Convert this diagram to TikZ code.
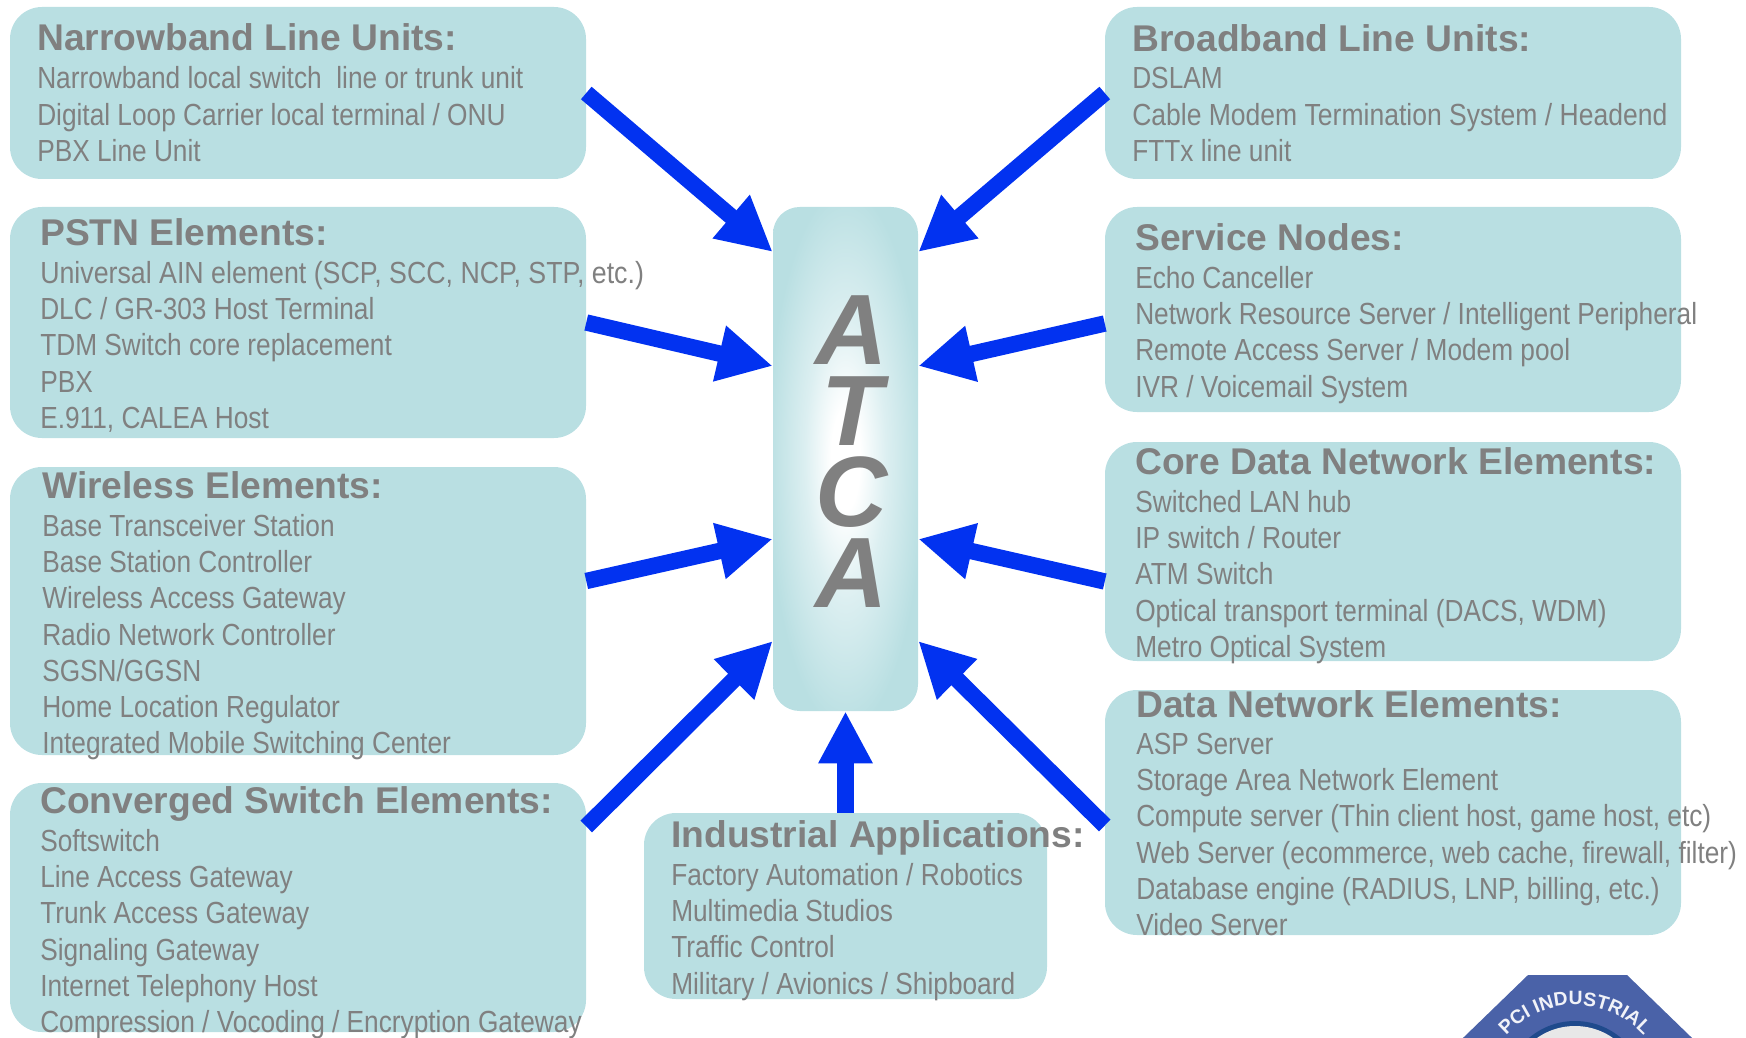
\documentclass[tikz,border=0pt]{standalone}
\usepackage{fontspec}
\usetikzlibrary{arrows.meta,calc,decorations.text}
\setmainfont{Liberation Sans}
\newfontfamily\bodyf[FakeStretch=0.86]{Liberation Sans}
\newfontfamily\headf{Liberation Sans}
\definecolor{boxc}{HTML}{B9DFE2}
\definecolor{boxm}{HTML}{DCEFF1}
\definecolor{txtc}{HTML}{808080}
\definecolor{arrc}{HTML}{0232F0}
\definecolor{logoc}{HTML}{4A62A8}
\definecolor{logod}{HTML}{1F4A8C}
\pgfdeclareradialshading{atcashade}{\pgfpoint{0bp}{0bp}}{color(0bp)=(white); color(5bp)=(white); color(14bp)=(boxm); color(27bp)=(boxc); color(100bp)=(boxc)}
\tikzset{
  panel/.style={fill=boxc,draw=none,rounded corners=24pt,inner sep=0pt},
  head/.style={anchor=base west,inner sep=0pt,text=txtc,font=\headf\bfseries\fontsize{27.9}{30}\selectfont},
  body/.style={anchor=north west,inner sep=0pt,align=left,yshift=18.97pt,text=txtc,font=\bodyf\fontsize{22.9}{27.2}\selectfont},
  feed/.style={draw=arrc,line width=12.3pt,-{Triangle[length=41pt,width=40pt]}},
  feedup/.style={draw=arrc,line width=12.3pt,-{Triangle[length=39pt,width=38pt]}},
}
\newcommand{\panelbox}[5]{\node[panel,minimum width={(#4-#2)*0.75pt},minimum height={(#5-#3)*0.75pt}] (#1) at ({(#2+#4)/2},{(#3+#5)/2}) {};}
\begin{document}
\begin{tikzpicture}[x=0.75pt,y=-0.75pt]
\useasboundingbox (0,0) rectangle (1746,1038);
\clip (0,0) rectangle (1746,1038);
% logo
\fill[logoc] (1528,975) -- (1627,975) -- (1722,1067) -- (1722,1120) -- (1433,1120) -- (1433,1067) -- cycle;
\fill[logod] (1575,1092) circle (71);
\fill[white!82!gray] (1575,1092) circle (66);
\fill[white] (1575,1098) circle (58);
\path[decorate,decoration={text along path,text align=center,text color=white!92!logoc,text={|\headf\bfseries\fontsize{14.5}{15}\selectfont|PCI INDUSTRIAL}}] (1575,1098) ++(-140:93) arc[start angle=-140,end angle=-40,radius=93];
% panels
\panelbox{nb}{10}{7}{586}{179}
\panelbox{pstn}{10}{207}{586}{438}
\panelbox{wl}{10}{467}{586}{755}
\panelbox{conv}{10}{783}{586}{1032}
\panelbox{bb}{1105}{7}{1681}{179}
\panelbox{svc}{1105}{207}{1681}{412}
\panelbox{core}{1105}{442}{1681}{661}
\panelbox{data}{1105}{690}{1681}{935}
\panelbox{ind}{644}{813}{1047}{999}
\node[rounded corners=20pt,minimum width=108.75pt,minimum height=378pt,inner sep=0pt,shading=atcashade] (atca) at (845.5,459) {};
\node[anchor=north,inner sep=0pt,align=center,text=txtc,font=\headf\bfseries\itshape\fontsize{75}{60.8}\selectfont] (atcat) at (852,295.5) {A\\T\\C\\A};
% text
\node[head] (h1) at (37,51) {Narrowband Line Units:};
\node[body] (t1) at (37,88.5) {\strut Narrowband local switch\ \ line or trunk unit\\Digital Loop Carrier local terminal / ONU\\PBX Line Unit};
\node[head] (h2) at (40,245) {PSTN Elements:};
\node[body] (t2) at (40,283) {\strut \scalebox{1.019}[1]{Universal AIN element (SCP, SCC, NCP, STP, etc.)}\\DLC / GR-303 Host Terminal\\TDM Switch core replacement\\PBX\\E.911, CALEA Host};
\node[head] (h3) at (42,498) {Wireless Elements:};
\node[body] (t3) at (42,536) {\strut Base Transceiver Station\\Base Station Controller\\Wireless Access Gateway\\Radio Network Controller\\SGSN/GGSN\\Home Location Regulator\\Integrated Mobile Switching Center};
\node[head] (h4) at (40,813) {Converged Switch Elements:};
\node[body] (t4) at (40,851) {\strut Softswitch\\Line Access Gateway\\Trunk Access Gateway\\Signaling Gateway\\Internet Telephony Host\\Compression / Vocoding / Encryption Gateway};
\node[head] (h5) at (1132,52) {Broadband Line Units:};
\node[body] (t5) at (1132,88.5) {\strut DSLAM\\\scalebox{1.01}[1]{Cable Modem Termination System / Headend}\\FTTx line unit};
\node[head] (h6) at (1135,250.5) {Service Nodes:};
\node[body] (t6) at (1135,288) {\strut Echo Canceller\\Network Resource Server / Intelligent Peripheral\\Remote Access Server / Modem pool\\IVR / Voicemail System};
\node[head] (h7) at (1135,474) {Core Data Network Elements:};
\node[body] (t7) at (1135,512) {\strut Switched LAN hub\\IP switch / Router\\ATM Switch\\Optical transport terminal (DACS, WDM)\\Metro Optical System};
\node[head] (h8) at (1136,717) {Data Network Elements:};
\node[body] (t8) at (1136,754) {\strut ASP Server\\Storage Area Network Element\\Compute server (Thin client host, game host, etc)\\Web Server (ecommerce, web cache, firewall, filter)\\Database engine (RADIUS, LNP, billing, etc.)\\Video Server};
\node[head] (h9) at (671,847) {Industrial Applications:};
\node[body] (t9) at (671,885) {\strut Factory Automation / Robotics\\Multimedia Studios\\Traffic Control\\Military / Avionics / Shipboard};
% arrows
\draw[feed] (nb.east) -- ($(atca.west)+(0,-207)$);
\draw[feed] (pstn.east) -- ($(atca.west)+(0,-93)$);
\draw[feed] ($(wl.east)+(0,-30)$) -- ($(atca.west)+(0,80)$);
\draw[feed] ($(conv.east)+(0,-81)$) -- ($(atca.west)+(0,182)$);
\draw[feedup] (ind.north -| atca.south) -- (atca.south);
\draw[feed] (bb.west) -- ($(atca.east)+(0,-207)$);
\draw[feed] ($(svc.west)+(0,14)$) -- ($(atca.east)+(0,-93)$);
\draw[feed] ($(core.west)+(0,30)$) -- ($(atca.east)+(0,80)$);
\draw[feed] ($(data.west)+(0,13)$) -- ($(atca.east)+(0,182)$);
\end{tikzpicture}
\end{document}
